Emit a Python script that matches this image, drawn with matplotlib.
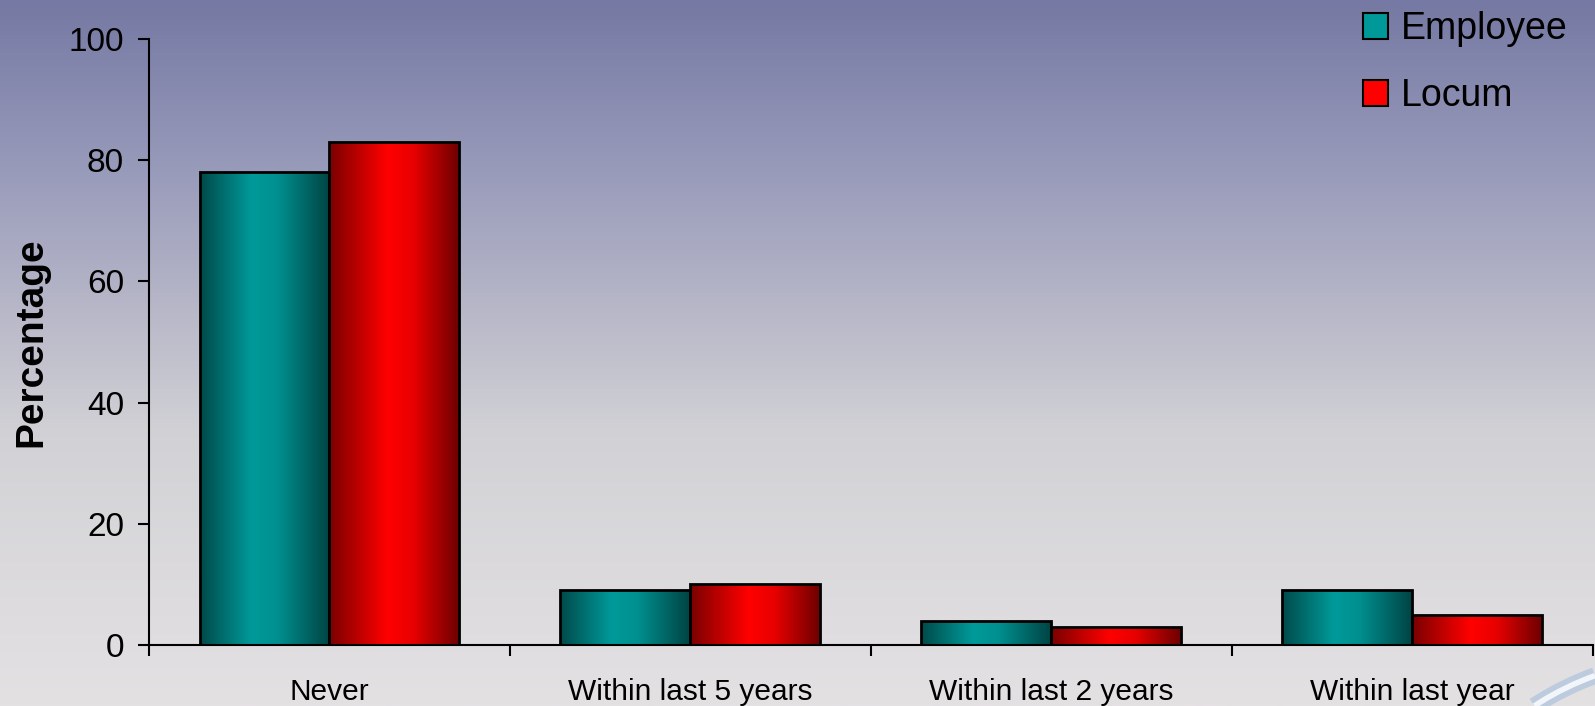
import numpy as np
import matplotlib
matplotlib.use("Agg")
import matplotlib.pyplot as plt
from matplotlib.colors import LinearSegmentedColormap
from matplotlib.patches import Patch
from matplotlib.path import Path
from matplotlib.patches import PathPatch

kategorije = ["Never", "Within last 5 years", "Within last 2 years", "Within last year"]
employee = [78, 9, 4, 9]
locum = [83, 10, 3, 5]
y_ticks = [0, 20, 40, 60, 80, 100]

plt.rcParams['font.family'] = ['Liberation Sans', 'DejaVu Sans']

fig = plt.figure(figsize=(15.95, 7.06), dpi=100)

# ozadje - gradient od modro sive do svetlo sive
bg = fig.add_axes([0, 0, 1, 1], zorder=-5)
bg_cmap = LinearSegmentedColormap.from_list("bg", [
    (0.0, "#7579a3"), (0.25, "#9a9cbb"), (0.45, "#b9b9c9"),
    (0.62, "#d2d2d6"), (1.0, "#e4e1e3")])
bg.imshow(np.linspace(0, 1, 256).reshape(-1, 1), cmap=bg_cmap, aspect="auto",
          extent=(0, 1, 0, 1), origin="upper")
bg.set_xlim(0, 1)
bg.set_ylim(0, 1)
bg.axis("off")

# okrasni lok spodaj desno
verts = [(0.962, 0.0), (0.975, 0.02), (0.99, 0.035), (1.0, 0.043)]
kode = [Path.MOVETO, Path.CURVE4, Path.CURVE4, Path.CURVE4]
bg.add_patch(PathPatch(Path(verts, kode), fill=False, edgecolor="#bccbdd",
                       linewidth=12, transform=bg.transAxes))
bg.add_patch(PathPatch(Path(verts, kode), fill=False, edgecolor="#f2f5f9",
                       linewidth=4, transform=bg.transAxes))

ax = fig.add_axes([0.0934, 0.0864, 0.9053, 0.8584])
ax.set_facecolor("none")

x = np.arange(len(kategorije))
w = 0.36
teal_cmap = LinearSegmentedColormap.from_list("teal", [
    (0.0, "#004a4a"), (0.4, "#009a9a"), (0.6, "#008f8f"), (1.0, "#004444")])
red_cmap = LinearSegmentedColormap.from_list("red", [
    (0.0, "#7a0000"), (0.45, "#ff0000"), (0.65, "#e80000"), (1.0, "#6e0000")])

bars_e = ax.bar(x - w / 2, employee, w, color="#009999", edgecolor="black", linewidth=2, zorder=3)
bars_l = ax.bar(x + w / 2, locum, w, color="#ff0000", edgecolor="black", linewidth=2, zorder=3)

# gradient v stolpcih
grad = np.linspace(0, 1, 256).reshape(1, -1)
for bars, cmap in [(bars_e, teal_cmap), (bars_l, red_cmap)]:
    for b in bars:
        x0 = b.get_x()
        im = ax.imshow(grad, cmap=cmap, aspect="auto", zorder=2,
                       extent=(x0, x0 + b.get_width(), 0, b.get_height()))
        im.set_clip_path(b)
        b.set_facecolor("none")

ax.set_xlim(-0.5, len(kategorije) - 0.5)
ax.set_ylim(0, 100)

ax.spines["top"].set_visible(False)
ax.spines["right"].set_visible(False)
ax.spines["left"].set_linewidth(1.5)
ax.spines["bottom"].set_linewidth(1.5)

ax.set_yticks(y_ticks)
ax.tick_params(axis="y", labelsize=24, length=8, width=1.5, pad=10)
ax.set_xticks(np.arange(len(kategorije) + 1) - 0.5)
ax.set_xticklabels([])
ax.tick_params(axis="x", which="major", length=8, width=1.5)
ax.set_xticks(x, minor=True)
ax.set_xticklabels(kategorije, minor=True)
ax.tick_params(axis="x", which="minor", length=0, labelsize=21.5, pad=24)

ax.set_ylabel("Percentage", fontsize=28, fontweight="bold")
ax.yaxis.set_label_coords(-0.069, 0.5)

handles = [Patch(facecolor="#009999", edgecolor="black", linewidth=1.5),
           Patch(facecolor="#ff0000", edgecolor="black", linewidth=1.5)]
fig.legend(handles, ["Employee", "Locum"], loc="upper left",
           bbox_to_anchor=(0.8545, 0.984), frameon=False, fontsize=27,
           handlelength=0.68, handleheight=0.68, handletextpad=0.32,
           labelspacing=0.82, borderpad=0, borderaxespad=0)

plt.savefig("out.png", dpi=100)
